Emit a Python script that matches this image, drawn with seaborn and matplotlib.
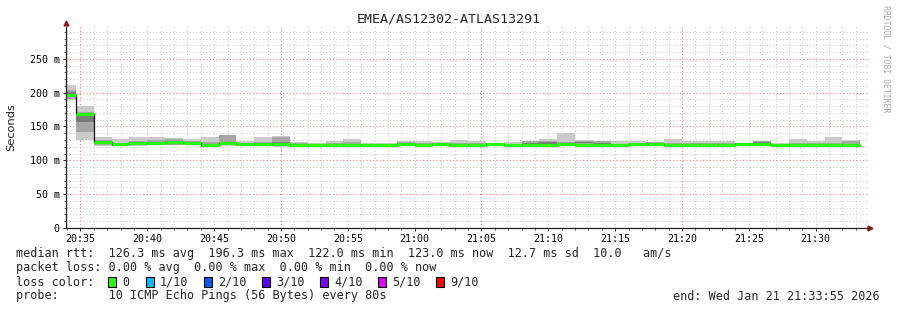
import numpy as np
import pandas as pd
import seaborn as sns
import matplotlib
matplotlib.use("Agg")
import matplotlib.pyplot as plt
from matplotlib.ticker import FixedLocator, MultipleLocator

# ---------------- data ----------------
title = "EMEA/AS12302-ATLAS13291"
start_s = 20 * 3600 + 33 * 60 + 55      # 20:33:55
end_s = start_s + 3600                   # 21:33:55
first_step = 20 * 3600 + 34 * 60 + 40    # first full 80 s step
step_s = 80

median = [196.3, 169, 127, 124.5, 126, 125, 127, 126, 122, 125, 124, 124, 124,
          122.5, 122.5, 123, 123, 122.5, 123, 123.5, 123, 124, 123, 123, 124,
          123, 122, 123, 123.5, 123, 122, 122, 124.5, 124, 123, 123, 123, 123,
          124, 123.5, 122, 123, 123, 123, 123]
outer_lo = [189, 130, 121, 121, 121, 122, 122, 123, 120, 121, 121, 121, 119,
            121, 121, 121, 121, 121, 121, 121, 120, 121, 121, 121, 121, 121,
            120, 121, 121, 121, 120, 121, 121, 121, 120, 121, 121, 121, 121,
            121, 120, 121, 121, 121, 121]
outer_hi = [211, 180, 134, 131, 134, 134, 133, 131, 134, 137, 129, 134, 136,
            127, 126, 128, 132, 126, 126, 128, 129, 127, 130, 129, 125.5, 127,
            129, 131, 141, 130, 129, 128, 129, 127, 132, 129, 129, 129, 126,
            128, 126, 132, 128, 135, 130]
inner_lo = [191, 142, 123, 121, 122, 123, 123, 124, 121, 122, 121.5, 122, 121,
            121.5, 121.5, 122, 122, 121.5, 122, 122, 121.5, 122, 122, 122, 122,
            122, 121, 122, 122, 122, 121, 121.5, 122, 122, 121, 122, 122, 122,
            122.5, 122, 121, 122, 122, 122, 122]
inner_hi = [204, 172, 130, 126, 128, 130, 132, 129, 127, 137, 125, 127, 135,
            125, 124, 125, 127, 124, 124.5, 127, 125, 125.5, 125, 126, 124.5,
            124.5, 128, 129, 127, 128, 129, 124, 126, 127, 126, 125, 125, 125,
            124.5, 128, 123.5, 125, 125, 126, 128]
core_lo = [193, 156, 125, 121, 123, 124, 125, 124, 121, 122, 122, 123, 123,
           122, 122, 122, 122.5, 122, 122, 123, 122, 123, 122, 122, 123, 122,
           122, 124, 122.5, 125, 121, 121.5, 123, 124, 122, 122, 122, 122, 123,
           124, 121, 122, 122, 122, 122]
core_hi = [201, 168, 128, 123.5, 126, 127, 129, 126, 123, 124, 124, 125, 127,
           123, 123, 124, 124.5, 123, 124, 125, 124, 125, 124, 124, 125, 124,
           126, 127, 124.5, 127, 125, 123, 125, 126, 124, 124, 124, 124, 125,
           127, 123, 124, 124, 124, 124]

xtick_labels = ["20:35", "20:40", "20:45", "20:50", "20:55", "21:00", "21:05",
                "21:10", "21:15", "21:20", "21:25", "21:30"]
ytick_values = [0, 50, 100, 150, 200, 250]
ytick_labels = ["0", "50 m", "100 m", "150 m", "200 m", "250 m"]

stats_lines = [
    "median rtt:  126.3 ms avg  196.3 ms max  122.0 ms min  123.0 ms now  12.7 ms sd  10.0   am/s",
    "packet loss: 0.00 % avg  0.00 % max  0.00 % min  0.00 % now",
]
loss_labels = ["0", "1/10", "2/10", "3/10", "4/10", "5/10", "9/10"]
loss_colors = ["#26ff00", "#00b8ff", "#0059ff", "#5e00ff", "#7e00ff", "#dd00ff", "#ff0000"]
probe_text = "probe:       10 ICMP Echo Pings (56 Bytes) every 80s"
end_text = "end: Wed Jan 21 21:33:55 2026"

# ---------------- build table ----------------
n = len(median)
lefts = [start_s] + [first_step + k * step_s for k in range(n - 1)]
rights = [first_step + k * step_s for k in range(n)]
df = pd.DataFrame({"left": lefts, "right": rights, "median": median,
                   "olo": outer_lo, "ohi": outer_hi, "ilo": inner_lo,
                   "ihi": inner_hi, "clo": core_lo, "chi": core_hi})
df["width"] = df["right"] - df["left"]

# ---------------- figure ----------------
sns.set_style("white")
MONO = ["DejaVu Sans Mono", "DejaVu Sans"]
plt.rcParams["font.family"] = MONO

W, H = 897, 310
fig = plt.figure(figsize=(W / 100, H / 100), dpi=100, facecolor="white")
ax_l, ax_r, ax_t, ax_b = 66, 868, 27, 228
ax = fig.add_axes([ax_l / W, 1 - ax_b / H, (ax_r - ax_l) / W, (ax_b - ax_t) / H])
ax.set_facecolor("white")
ax.set_xlim(start_s, end_s)
ax.set_ylim(0, 297)

# grid
minor_x = np.arange(20 * 3600 + 34 * 60, end_s, 60)
major_x_red = [20 * 3600 + 35 * 60 + k * 900 for k in range(4)]
for x in minor_x:
    if x in major_x_red:
        continue
    ax.axvline(x, color="#cccccc", lw=0.8, ls=(0, (1, 2)), zorder=0)
for y in range(10, 297, 10):
    if y % 50 == 0:
        continue
    ax.axhline(y, color="#cccccc", lw=0.8, ls=(0, (1, 2)), zorder=0)
for x in major_x_red:
    ax.axvline(x, color="#f08080", lw=0.8, ls=(0, (1, 2)), zorder=0.5)
for y in ytick_values[1:]:
    ax.axhline(y, color="#f08080", lw=0.8, ls=(0, (1, 2)), zorder=0.5)

# smoke
ax.bar(df["left"], df["ohi"] - df["olo"], bottom=df["olo"], width=df["width"],
       align="edge", color="#cacaca", lw=0, zorder=1)
ax.bar(df["left"], df["ihi"] - df["ilo"], bottom=df["ilo"], width=df["width"],
       align="edge", color="#a6a6a6", lw=0, zorder=2)
ax.bar(df["left"], df["chi"] - df["clo"], bottom=df["clo"], width=df["width"],
       align="edge", color="#7a7a7a", lw=0, zorder=3)

# median: black step line + green loss-coloured bars
step_df = pd.DataFrame({"t": list(df["left"]) + [df["right"].iloc[-1]],
                        "v": list(df["median"]) + [df["median"].iloc[-1]]})
sns.lineplot(data=step_df, x="t", y="v", drawstyle="steps-post", color="#101010",
             lw=0.9, ax=ax, zorder=4)
ax.hlines(df["median"], df["left"], df["right"], color=loss_colors[0], lw=2.3, zorder=5)

# axes & ticks
for s in ax.spines.values():
    s.set_visible(False)
ax.plot([0, 1], [0, 0], transform=ax.transAxes, color="#222222", lw=0.9, clip_on=False, zorder=6)
ax.plot([0, 0], [0, 1.0], transform=ax.transAxes, color="#222222", lw=0.9, clip_on=False, zorder=6)
ax.plot([1.003], [0], marker=">", ms=3.5, color="#8b1a1a", transform=ax.transAxes, clip_on=False)
ax.plot([0], [1.02], marker="^", ms=3.5, color="#8b1a1a", transform=ax.transAxes, clip_on=False)

def tsec(lbl):
    h, m = lbl.split(":")
    return int(h) * 3600 + int(m) * 60

ax.xaxis.set_major_locator(FixedLocator([tsec(l) for l in xtick_labels]))
ax.set_xticklabels(xtick_labels)
ax.xaxis.set_minor_locator(FixedLocator(minor_x))
ax.yaxis.set_major_locator(FixedLocator(ytick_values))
ax.set_yticklabels(ytick_labels)
ax.yaxis.set_minor_locator(MultipleLocator(10))
ax.tick_params(axis="both", which="major", direction="out", length=2.5, width=0.7,
               color="#222222", labelsize=7.2, labelcolor="#000000", pad=2,
               bottom=True, left=True)
ax.tick_params(axis="both", which="minor", direction="out", length=1.5, width=0.6,
               color="#444444", bottom=True, left=True)
ax.set_xlabel("")
ax.set_ylabel("")

# texts
fig.text(449 / W, 1 - 19 / H, title, ha="center", va="center", fontsize=9.6, family=MONO)
fig.text(11 / W, 1 - 127 / H, "Seconds", rotation=90, ha="center", va="center",
         fontsize=8.2, family=["DejaVu Sans"])
fig.text(886 / W, 1 - 5 / H, "RRDTOOL / TOBI OETIKER", rotation=270, ha="center", va="top",
         fontsize=5.9, color="#aaaaaa", family=MONO)

fs = 8.5
ys = [254, 268, 282, 296]
for line, y in zip(stats_lines, ys[:2]):
    fig.text(16 / W, 1 - y / H, line, ha="left", va="center", fontsize=fs, family=MONO)
fig.text(16 / W, 1 - ys[2] / H, "loss color:", ha="left", va="center", fontsize=fs, family=MONO)
box_x = [108, 146, 204, 262, 320, 378, 436]
for bx, lbl, col in zip(box_x, loss_labels, loss_colors):
    fig.patches.append(plt.Rectangle((bx / W, 1 - (ys[2] + 5) / H), 8 / W, 10 / H,
                                     transform=fig.transFigure, facecolor=col,
                                     edgecolor="#000000", lw=0.8))
    fig.text((bx + 14) / W, 1 - ys[2] / H, lbl, ha="left", va="center", fontsize=fs, family=MONO)
fig.text(16 / W, 1 - ys[3] / H, probe_text, ha="left", va="center", fontsize=fs, family=MONO)
fig.text(880 / W, 1 - ys[3] / H, end_text, ha="right", va="center", fontsize=fs, family=MONO)

fig.savefig("out.png", dpi=100, facecolor="white")
